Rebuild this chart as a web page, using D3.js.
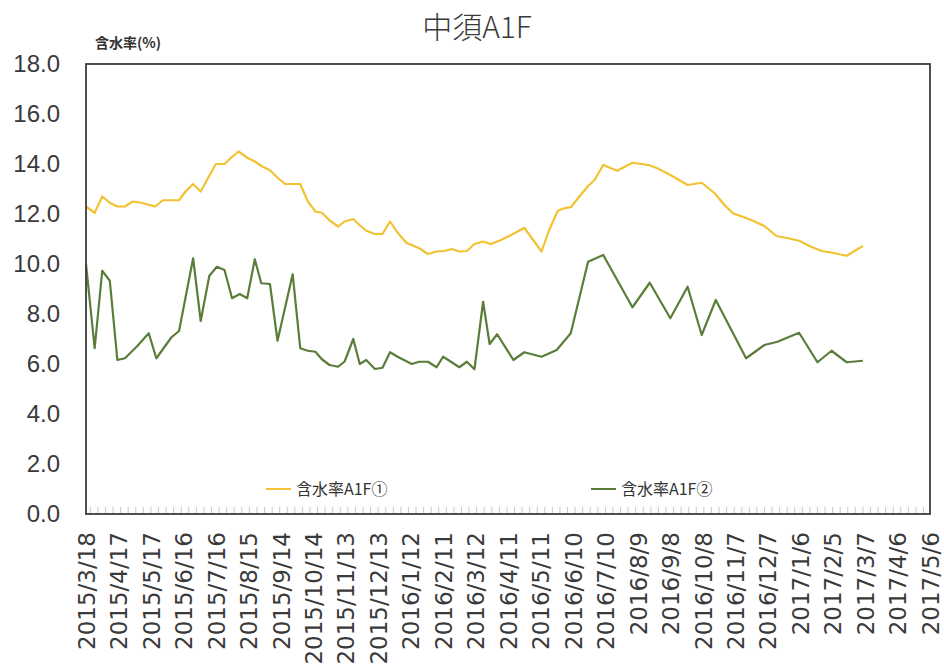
<!DOCTYPE html>
<html>
<head>
<meta charset="utf-8">
<script src="https://cdn.jsdelivr.net/npm/d3@7"></script>
<style>
  html, body { margin: 0; padding: 0; background: #fff; }
  svg { display: block; }
</style>
</head>
<body>
<svg id="chart" width="944" height="671"></svg>
<script>
// Moisture content (%) of 中須A1F, two measurement points
const chartTitle = "中須A1F";
const yAxisTitle = "含水率(%)";
const seriesNames = ["含水率A1F①", "含水率A1F②"];

const xTickLabels = [
  "2015/3/18", "2015/4/17", "2015/5/17", "2015/6/16", "2015/7/16", "2015/8/15",
  "2015/9/14", "2015/10/14", "2015/11/13", "2015/12/13", "2016/1/12", "2016/2/11",
  "2016/3/12", "2016/4/11", "2016/5/11", "2016/6/10", "2016/7/10", "2016/8/9",
  "2016/9/8", "2016/10/8", "2016/11/7", "2016/12/7", "2017/1/6", "2017/2/5",
  "2017/3/7", "2017/4/6", "2017/5/6"
];
const yTicks = [0, 2, 4, 6, 8, 10, 12, 14, 16, 18];

const datesA = [
  "2015-03-18", "2015-03-26", "2015-04-02", "2015-04-09", "2015-04-16", "2015-04-23",
  "2015-04-30", "2015-05-08", "2015-05-21", "2015-05-28", "2015-06-05", "2015-06-12",
  "2015-06-18", "2015-06-25", "2015-07-02", "2015-07-09", "2015-07-16", "2015-07-24",
  "2015-07-30", "2015-08-06", "2015-08-14", "2015-08-21", "2015-08-28", "2015-09-04",
  "2015-09-11", "2015-09-18", "2015-09-25", "2015-10-02", "2015-10-09", "2015-10-16",
  "2015-10-22", "2015-10-29", "2015-11-06", "2015-11-12", "2015-11-20", "2015-11-26",
  "2015-12-02", "2015-12-10", "2015-12-17", "2015-12-24", "2015-12-31", "2016-01-08",
  "2016-01-20", "2016-01-28", "2016-02-05", "2016-02-12", "2016-02-19", "2016-02-26",
  "2016-03-04", "2016-03-11", "2016-03-19", "2016-03-26", "2016-04-03", "2016-04-12",
  "2016-04-20", "2016-04-26", "2016-05-12", "2016-05-19", "2016-05-27", "2016-06-02",
  "2016-06-08", "2016-06-16", "2016-06-24", "2016-06-30", "2016-07-08", "2016-07-21",
  "2016-08-04", "2016-08-19", "2016-08-27", "2016-09-08", "2016-09-16", "2016-09-24",
  "2016-10-07", "2016-10-19", "2016-10-28", "2016-11-05", "2016-11-20", "2016-12-04",
  "2016-12-15", "2016-12-26", "2017-01-05", "2017-01-16", "2017-01-26", "2017-02-07",
  "2017-02-18", "2017-03-05"
];
const valuesA = [
  12.3, 12.05, 12.7, 12.45, 12.3, 12.3,
  12.5, 12.45, 12.3, 12.55, 12.55, 12.55,
  12.9, 13.2, 12.9, 13.45, 14.0, 14.0,
  14.25, 14.5, 14.25, 14.1, 13.9, 13.75,
  13.45, 13.2, 13.2, 13.2, 12.5, 12.1,
  12.05, 11.75, 11.5, 11.7, 11.8, 11.55,
  11.33, 11.2, 11.2, 11.7, 11.25, 10.85,
  10.63, 10.4, 10.5, 10.52, 10.6, 10.5,
  10.52, 10.8, 10.9, 10.8, 10.93, 11.12,
  11.3, 11.45, 10.5, 11.35, 12.13, 12.23,
  12.27, 12.7, 13.12, 13.36, 13.96, 13.73,
  14.05, 13.96, 13.83, 13.56, 13.36, 13.16,
  13.25, 12.83, 12.36, 12.03, 11.79, 11.52,
  11.12, 11.03, 10.93, 10.69, 10.52, 10.43,
  10.33, 10.72
];

const datesB = [
  "2015-03-18", "2015-03-26", "2015-04-02", "2015-04-09", "2015-04-16", "2015-04-23",
  "2015-05-04", "2015-05-15", "2015-05-22", "2015-06-05", "2015-06-12", "2015-06-25",
  "2015-07-02", "2015-07-10", "2015-07-17", "2015-07-24", "2015-07-31", "2015-08-07",
  "2015-08-14", "2015-08-21", "2015-08-27", "2015-09-04", "2015-09-11", "2015-09-25",
  "2015-10-02", "2015-10-09", "2015-10-16", "2015-10-22", "2015-10-29", "2015-11-06",
  "2015-11-12", "2015-11-20", "2015-11-26", "2015-12-02", "2015-12-10", "2015-12-17",
  "2015-12-24", "2015-12-31", "2016-01-13", "2016-01-20", "2016-01-28", "2016-02-05",
  "2016-02-11", "2016-02-19", "2016-02-26", "2016-03-04", "2016-03-11", "2016-03-19",
  "2016-03-25", "2016-04-01", "2016-04-16", "2016-04-26", "2016-05-12", "2016-05-26",
  "2016-06-08", "2016-06-24", "2016-07-08", "2016-08-04", "2016-08-20", "2016-09-08",
  "2016-09-24", "2016-10-07", "2016-10-20", "2016-11-17", "2016-12-04", "2016-12-16",
  "2017-01-05", "2017-01-22", "2017-02-04", "2017-02-18", "2017-03-05"
];
const valuesB = [
  10.0, 6.63, 9.73, 9.33, 6.16, 6.23,
  6.7, 7.23, 6.23, 7.07, 7.32, 10.23,
  7.72, 9.53, 9.89, 9.76, 8.63, 8.8,
  8.63, 10.19, 9.23, 9.2, 6.93, 9.59,
  6.63, 6.53, 6.49, 6.19, 5.96, 5.89,
  6.1, 7.0, 6.0, 6.16, 5.8, 5.85,
  6.47, 6.29, 6.0, 6.09, 6.09, 5.87,
  6.29, 6.07, 5.87, 6.09, 5.79, 8.49,
  6.8, 7.19, 6.16, 6.47, 6.29, 6.56,
  7.23, 10.09, 10.36, 8.27, 9.25, 7.83,
  9.09, 7.16, 8.56, 6.23, 6.76, 6.89,
  7.25, 6.07, 6.53, 6.07, 6.13
];

const colors = ["#F1C232", "#5B7D3A"];

const parseDate = d3.utcParse("%Y-%m-%d");
const parseTick = d3.utcParse("%Y/%m/%d");

const svg = d3.select("#chart");
const plot = { left: 86, right: 930, top: 64, bottom: 514 };

const tickDates = xTickLabels.map(parseTick);
const x = d3.scaleUtc()
  .domain([tickDates[0], tickDates[tickDates.length - 1]])
  .range([plot.left, plot.right]);
const y = d3.scaleLinear()
  .domain([0, 18])
  .range([plot.bottom, plot.top]);

// Title and axis title
svg.append("text")
  .attr("x", 477).attr("y", 38)
  .attr("text-anchor", "middle")
  .attr("font-family", "'Noto Sans CJK JP', sans-serif")
  .attr("font-size", 30)
  .attr("font-weight", 300)
  .attr("fill", "#3a3a3a")
  .text(chartTitle);

svg.append("text")
  .attr("x", 95).attr("y", 48)
  .attr("font-family", "'Noto Sans CJK JP', sans-serif")
  .attr("font-size", 14)
  .attr("font-weight", 700)
  .attr("fill", "#333")
  .text(yAxisTitle);

// Minor ticks along the bottom edge, weekly
const minorTicks = d3.utcWeek.range(tickDates[0], tickDates[tickDates.length - 1]);
svg.append("g")
  .selectAll("line")
  .data(minorTicks)
  .join("line")
  .attr("x1", d => x(d)).attr("x2", d => x(d))
  .attr("y1", plot.bottom - 1).attr("y2", plot.bottom - 7)
  .attr("stroke", "#c8c8c8")
  .attr("stroke-width", 1);

// Y axis labels
const yAxis = d3.axisLeft(y)
  .tickValues(yTicks)
  .tickFormat(d3.format(".1f"))
  .tickSize(0)
  .tickPadding(26);
const gy = svg.append("g")
  .attr("transform", `translate(${plot.left},0)`)
  .call(yAxis);
gy.select(".domain").remove();
gy.selectAll("text")
  .attr("font-family", "'Liberation Sans', Arial, sans-serif")
  .attr("font-size", 24)
  .attr("fill", "#3a3a3a");

// X axis labels, rotated
const xAxis = d3.axisBottom(x)
  .tickValues(tickDates)
  .tickFormat((d, i) => xTickLabels[i])
  .tickSize(0);
const gx = svg.append("g")
  .attr("transform", `translate(0,${plot.bottom})`)
  .call(xAxis);
gx.select(".domain").remove();
gx.selectAll("text")
  .attr("font-family", "'DejaVu Sans', sans-serif")
  .attr("font-size", 23)
  .attr("fill", "#3a3a3a")
  .attr("text-anchor", "end")
  .attr("transform", "rotate(-90)")
  .attr("x", -18)
  .attr("y", 0)
  .attr("dy", "0.36em");

// Series lines
const seriesData = [
  datesA.map((d, i) => ({ date: parseDate(d), value: valuesA[i] })),
  datesB.map((d, i) => ({ date: parseDate(d), value: valuesB[i] }))
];
const line = d3.line()
  .x(d => x(d.date))
  .y(d => y(d.value));

svg.append("g")
  .selectAll("path")
  .data(seriesData)
  .join("path")
  .attr("d", line)
  .attr("fill", "none")
  .attr("stroke", (d, i) => colors[i])
  .attr("stroke-width", 2.2)
  .attr("stroke-linejoin", "round");

// Plot border
svg.append("rect")
  .attr("x", plot.left).attr("y", plot.top)
  .attr("width", plot.right - plot.left)
  .attr("height", plot.bottom - plot.top)
  .attr("fill", "none")
  .attr("stroke", "#3c3c3c")
  .attr("stroke-width", 1.8);

// Legend
const legendX = [266, 591];
const legend = svg.append("g")
  .selectAll("g")
  .data(seriesNames)
  .join("g")
  .attr("transform", (d, i) => `translate(${legendX[i]},489)`);
legend.append("line")
  .attr("x1", 0).attr("x2", 25)
  .attr("y1", 0).attr("y2", 0)
  .attr("stroke", (d, i) => colors[i])
  .attr("stroke-width", 2);
legend.append("text")
  .attr("x", 30).attr("y", 0)
  .attr("dy", "0.36em")
  .attr("font-family", "'Noto Sans CJK JP', sans-serif")
  .attr("font-size", 16)
  .attr("fill", "#333")
  .text(d => d);
</script>
</body>
</html>
